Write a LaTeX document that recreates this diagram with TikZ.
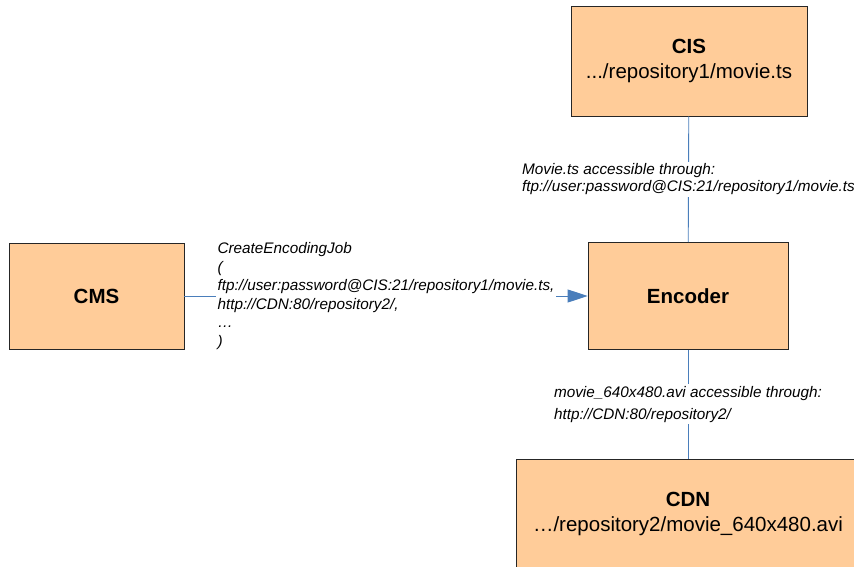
\documentclass[tikz,border=0pt]{standalone}
\usepackage{fontspec}
\setmainfont{Liberation Sans}
\usetikzlibrary{arrows.meta}

\definecolor{boxfill}{RGB}{255,204,153}
\definecolor{linkblue}{RGB}{74,126,187}

\begin{document}
\begin{tikzpicture}[x=1pt, y=-1pt,
    box/.style={draw=black!85, fill=boxfill, line width=0.8pt, inner sep=0pt, align=center, font=\fontsize{20.5}{24.5}\selectfont},
    link/.style={draw=linkblue, line width=0.9pt},
    lbl/.style={fill=white, inner sep=2pt, align=left, font=\fontsize{15.3}{#1}\selectfont\itshape}]
  \useasboundingbox (0,0) rectangle (854,567);
  \node[box, minimum width=175pt, minimum height=106pt] (cms) at (96.5,296) {\textbf{CMS}};
  \node[box, minimum width=236pt, minimum height=110pt] (cis) at (689,61) {\textbf{CIS}\\.../repository1/movie.ts};
  \node[box, minimum width=200pt, minimum height=107pt] (enc) at (688,296) {\textbf{Encoder}};
  \node[box, minimum width=344pt, minimum height=110pt] (cdn) at (688,514) {\textbf{CDN}\\…/repository2/movie\_640x480.avi};
  \draw[link] (cis) -- (enc) node[midway, lbl=17] {Movie.ts accessible through:\\ftp://user:password@CIS:21/repository1/movie.ts};
  \draw[link] (enc) -- (cdn) node[midway, lbl=22] {movie\_640x480.avi accessible through:\\http://CDN:80/repository2/};
  \draw[link, -{Triangle[length=20pt, width=13pt]}] (cms) -- (enc) node[midway, lbl=18.6] {CreateEncodingJob\\(\\ftp://user:password@CIS:21/repository1/movie.ts,\\http://CDN:80/repository2/,\\…\\)};
\end{tikzpicture}
\end{document}
